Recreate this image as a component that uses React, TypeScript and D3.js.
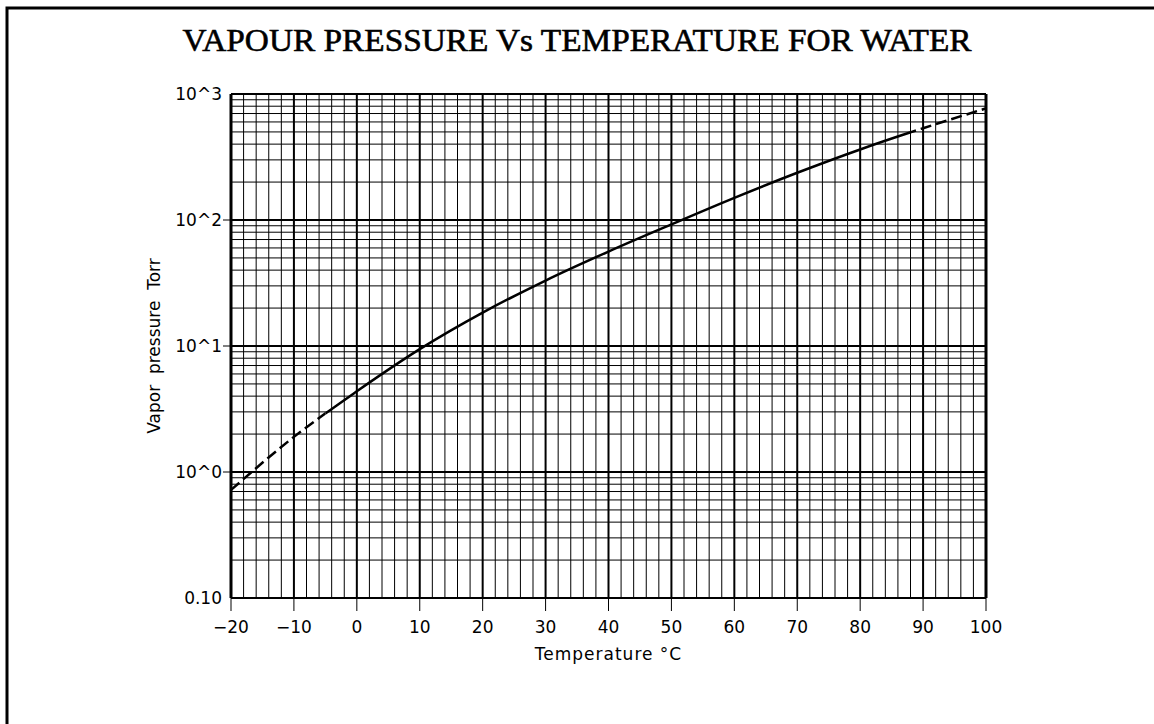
import React from "react";
import * as d3 from "d3";

const temps = [-20, -10, 0, 10, 20, 30, 40, 50, 60, 70, 80, 90, 100];
const pressures = [0.72, 1.9, 4.37, 9.44, 18.4, 33.1, 56.2, 92.3, 150, 237, 363, 535, 769];
const dashedBelow = -5;
const dashedAbove = 88;
const xTicks = [-20, -10, 0, 10, 20, 30, 40, 50, 60, 70, 80, 90, 100];
const yDecades = [0.1, 1, 10, 100, 1000];
const yTickLabels = ["0.10", "10^0", "10^1", "10^2", "10^3"];

const W = 1154, H = 724;
const L = 231, R = 986, T = 94, B = 598;

export default function App() {
  const x = d3.scaleLinear().domain([-20, 100]).range([L, R]);
  const y = d3.scaleLog().domain([0.1, 1000]).range([B, T]);
  const pts = temps.map((t, i) => ({ t, p: pressures[i] }));
  const line = d3.line<{ t: number; p: number }>().x(d => x(d.t)).y(d => y(d.p)).curve(d3.curveMonotoneX);
  const d = line(pts) || "";

  const minorX = d3.range(-20, 101, 2);
  const minorY: number[] = [];
  for (let k = 0; k < yDecades.length - 1; k++) {
    for (let m = 2; m <= 9; m++) minorY.push(yDecades[k] * m);
  }
  const font = "'DejaVu Sans', sans-serif";

  return (
    <svg width={W} height={H} style={{ position: "absolute", left: 0, top: 0, background: "#fff" }}>
      <defs>
        <clipPath id="solidClip">
          <rect x={x(dashedBelow)} y={0} width={x(dashedAbove) - x(dashedBelow)} height={H} />
        </clipPath>
        <clipPath id="lowClip">
          <rect x={0} y={0} width={x(dashedBelow)} height={H} />
        </clipPath>
        <clipPath id="highClip">
          <rect x={x(dashedAbove)} y={0} width={W - x(dashedAbove)} height={H} />
        </clipPath>
      </defs>
      <rect x={7} y={8} width={W + 20} height={H + 20} fill="#fff" stroke="#000" strokeWidth={3} />
      <text x={577} y={51} textAnchor="middle" fontFamily="'Liberation Serif', serif" fontSize={32} stroke="#000" strokeWidth={0.6} textLength={789} lengthAdjust="spacingAndGlyphs">
        VAPOUR PRESSURE Vs TEMPERATURE FOR WATER
      </text>
      {/* grid */}
      {minorX.map(t => (
        <line key={"vx" + t} x1={x(t)} x2={x(t)} y1={T} y2={B} stroke="#000" strokeWidth={t % 10 === 0 ? 2 : 1} />
      ))}
      {minorY.map(p => (
        <line key={"hy" + p} x1={L} x2={R} y1={y(p)} y2={y(p)} stroke="#000" strokeWidth={1} />
      ))}
      {yDecades.map(p => (
        <line key={"dy" + p} x1={L} x2={R} y1={y(p)} y2={y(p)} stroke="#000" strokeWidth={2} />
      ))}
      <line x1={L} x2={L} y1={T} y2={B} stroke="#000" strokeWidth={3} />
      <line x1={R} x2={R} y1={T} y2={B} stroke="#000" strokeWidth={3} />
      <line x1={L} x2={R} y1={B} y2={B} stroke="#000" strokeWidth={1} />
      {/* x ticks */}
      {xTicks.map(t => (
        <g key={"xt" + t}>
          <line x1={x(t)} x2={x(t)} y1={B} y2={B + 13} stroke="#000" strokeWidth={1} />
          <text x={x(t)} y={633} textAnchor="middle" fontFamily={font} fontSize={17}>
            {t < 0 ? "\u2212" + Math.abs(t) : String(t)}
          </text>
        </g>
      ))}
      {/* y ticks */}
      {yDecades.map((p, i) => (
        <g key={"yt" + p}>
          {i > 0 && i < yDecades.length - 1 && <line x1={L - 8} x2={L} y1={y(p)} y2={y(p)} stroke="#000" strokeWidth={1} />}
          <text x={222} y={y(p) + 6} textAnchor="end" fontFamily={font} fontSize={17}>
            {yTickLabels[i]}
          </text>
        </g>
      ))}
      <text x={(L + R) / 2} y={660} textAnchor="middle" fontFamily={font} fontSize={17} letterSpacing={1}>
        Temperature °C
      </text>
      <text transform={`translate(160,${(T + B) / 2}) rotate(-90)`} textAnchor="middle" fontFamily={font} fontSize={17} style={{ whiteSpace: "pre" }}>
        {"Vapor  pressure  Torr"}
      </text>
      {/* curve */}
      <path d={d} fill="none" stroke="#000" strokeWidth={2.5} clipPath="url(#solidClip)" />
      <path d={d} fill="none" stroke="#000" strokeWidth={2.5} strokeDasharray="11,5" clipPath="url(#lowClip)" />
      <path d={d} fill="none" stroke="#000" strokeWidth={2.5} strokeDasharray="11,5" clipPath="url(#highClip)" />
    </svg>
  );
}
